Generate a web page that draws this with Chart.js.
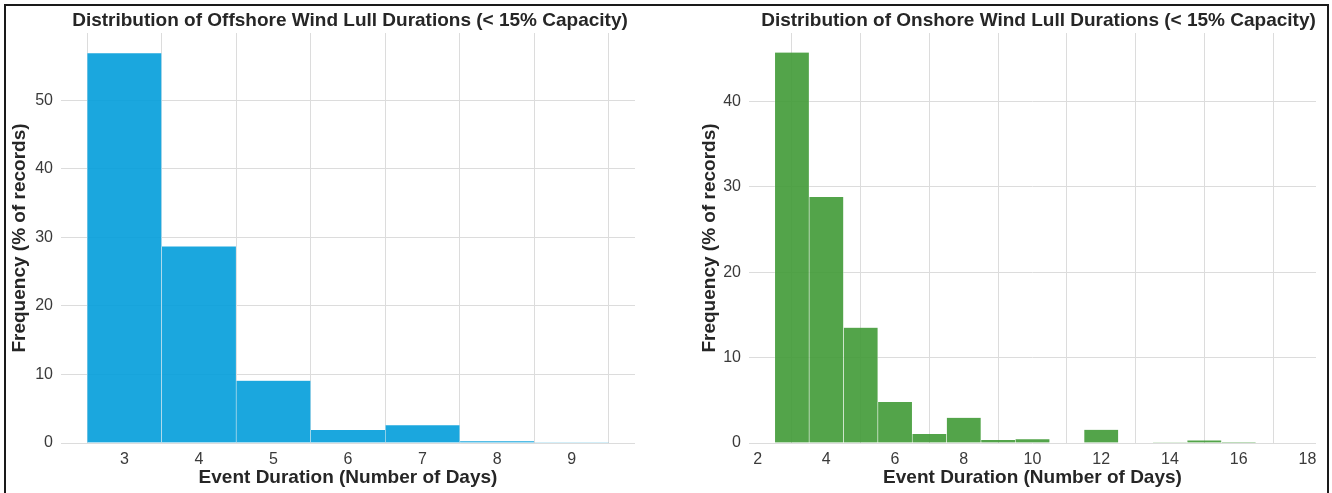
<!DOCTYPE html>
<html>
<head>
<meta charset="utf-8">
<script src="https://cdn.jsdelivr.net/npm/chart.js@4.4.1/dist/chart.umd.min.js"></script>
<style>
  html, body { margin: 0; padding: 0; background: #fff; }
  #wrap { position: relative; width: 1332px; height: 493px; overflow: hidden; background: #fff; }
  canvas { position: absolute; top: 0; }
  #frame { position: absolute; left: 4px; top: 4px; width: 1325px; height: 520px; border: 2px solid #1a1a1a; box-sizing: border-box; pointer-events: none; }
</style>
</head>
<body>
<div id="wrap">
  <canvas id="c1" width="666" height="493" style="left:0px"></canvas>
  <canvas id="c2" width="666" height="493" style="left:666px"></canvas>
  <div id="frame"></div>
</div>
<script>
// ---- Data ----
const offshoreBins = [3, 4, 5, 6, 7, 8, 9];
const offshoreFreq = [56.9, 28.7, 9.1, 1.9, 2.6, 0.25, 0.05];
const offshoreXTicks = [3, 4, 5, 6, 7, 8, 9];
const offshoreYTicks = [0, 10, 20, 30, 40, 50];

const onshoreBins = [3, 4, 5, 6, 7, 8, 9, 10, 11, 12, 13, 14, 15, 16, 17];
const onshoreFreq = [45.7, 28.8, 13.5, 4.8, 1.05, 2.95, 0.35, 0.45, 0, 1.55, 0, 0.08, 0.3, 0.12, 0];
const onshoreXTicks = [2, 4, 6, 8, 10, 12, 14, 16, 18];
const onshoreYTicks = [0, 10, 20, 30, 40];

const offshoreTitle = 'Distribution of Offshore Wind Lull Durations (< 15% Capacity)';
const onshoreTitle = 'Distribution of Onshore Wind Lull Durations (< 15% Capacity)';
const xTitle = 'Event Duration (Number of Days)';
const yTitle = 'Frequency (% of records)';

const FONT = "'Liberation Sans', Arial, sans-serif";

const titlePlugin = {
  id: 'areaTitle',
  afterDraw(chart, args, opts) {
    const ca = chart.chartArea, ctx = chart.ctx;
    ctx.save();
    ctx.font = "bold 19px " + FONT;
    ctx.fillStyle = '#262626';
    ctx.textAlign = 'center';
    ctx.textBaseline = 'middle';
    ctx.fillText(opts.text, (ca.left + ca.right) / 2 + (opts.dx || 0), 20.5);
    ctx.restore();
  }
};

function makeChart(id, bins, freq, xTicks, yTicks, xmin, xmax, ymax, color, pad, yWidth, title, dx) {
  return new Chart(document.getElementById(id), {
    type: 'bar',
    data: {
      datasets: [{
        data: bins.map((b, i) => ({ x: b, y: freq[i] })),
        backgroundColor: color,
        borderColor: 'rgba(255,255,255,0.55)',
        borderWidth: { left: 0.6, right: 0.6, top: 0, bottom: 0 },
        borderSkipped: false,
        barPercentage: 1.0,
        categoryPercentage: 1.0,
        grouped: false
      }]
    },
    plugins: [titlePlugin],
    options: {
      responsive: false,
      animation: false,
      devicePixelRatio: 1,
      layout: { padding: { left: pad.left, right: pad.right, top: 33, bottom: 0 } },
      plugins: {
        legend: { display: false },
        tooltip: { enabled: false },
        areaTitle: { text: title, dx: dx }
      },
      scales: {
        x: {
          type: 'linear',
          min: xmin, max: xmax,
          offset: false,
          grid: { color: '#dcdcdc', lineWidth: 1, drawTicks: false },
          border: { display: false },
          ticks: { padding: 7, color: '#3a3a3a', font: { family: FONT, size: 16 }, autoSkip: false, maxRotation: 0 },
          afterBuildTicks: axis => { axis.ticks = xTicks.map(v => ({ value: v })); },
          afterFit: s => { s.height = 50; },
          title: { display: true, text: xTitle, color: '#262626', font: { family: FONT, size: 19, weight: 'bold' }, padding: { top: 0, bottom: 4 } }
        },
        y: {
          type: 'linear',
          min: 0, max: ymax,
          grid: { color: '#dcdcdc', lineWidth: 1, drawTicks: false },
          border: { display: false },
          ticks: { padding: 8, color: '#3a3a3a', font: { family: FONT, size: 16 } },
          afterBuildTicks: axis => { axis.ticks = yTicks.map(v => ({ value: v })); },
          afterFit: s => { s.width = yWidth; },
          title: { display: true, text: yTitle, color: '#262626', font: { family: FONT, size: 19, weight: 'bold' }, padding: { top: 8.5, bottom: 0 } }
        }
      }
    }
  });
}

makeChart('c1', offshoreBins, offshoreFreq, offshoreXTicks, offshoreYTicks, 2.15, 9.85, 59.85,
  'rgba(2,157,218,0.9)', { left: 0, right: 31 }, 61, offshoreTitle, 2);
makeChart('c2', onshoreBins, onshoreFreq, onshoreXTicks, onshoreYTicks, 1.75, 18.25, 47.98,
  'rgba(64,154,54,0.9)', { left: 24, right: 16 }, 59, onshoreTitle, 6);
</script>
</body>
</html>
